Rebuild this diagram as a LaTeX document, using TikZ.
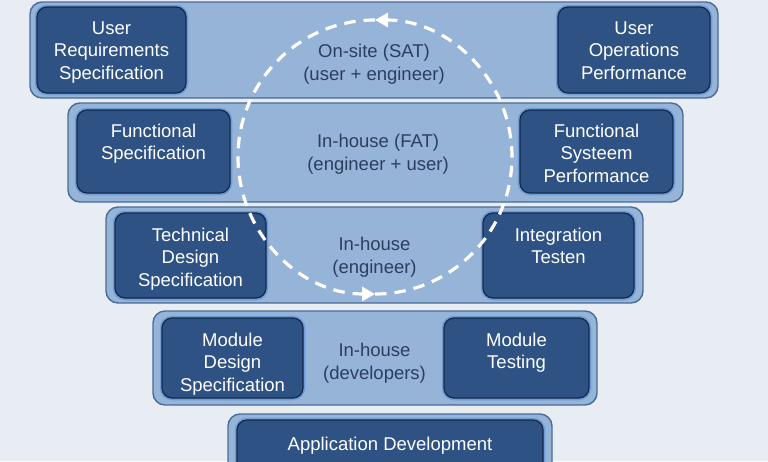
\documentclass[tikz,border=0pt]{standalone}
\usepackage{fontspec}
\setmainfont{Liberation Sans}
\usetikzlibrary{positioning,arrows.meta}
\definecolor{bgblue}{HTML}{E8EDF4}
\definecolor{panelblue}{HTML}{96B3D8}
\definecolor{paneledge}{HTML}{4A6C9A}
\definecolor{boxblue}{HTML}{2E5283}
\definecolor{boxrim}{HTML}{6E9CD6}
\definecolor{boxedge}{HTML}{14294A}
\definecolor{inktext}{HTML}{2B3F5E}
\tikzset{panel/.style={draw=paneledge, line width=1.4pt, fill=panelblue,
   rounded corners=12pt, inner sep=0pt},
 stepbox/.style={draw=boxedge, line width=1.2pt, fill=boxblue,
   rounded corners=10pt, inner sep=0pt, preaction={draw=boxrim, line width=4.5pt}},
 steptext/.style={text=white, align=center, inner sep=0pt,
   font=\fontsize{18.5}{22.5}\selectfont},
 phase/.style={text=inktext, align=center, inner sep=0pt,
   font=\fontsize{18.5}{22.5}\selectfont},
 cycle/.style={draw=white, line width=3.2pt, dash pattern=on 11.5pt off 8pt,
   -{Triangle[length=13pt,width=14pt,fill=white]}},
}

\begin{document}
\begin{tikzpicture}[x=1pt,y=-1pt]
    \clip (0,0) rectangle (768,461);
    \fill[bgblue] (0,0) rectangle (768,461);
    \foreach \cx/\cy/\w/\h/\n in {374/50/688/96/row1, 375.5/152.5/615/99/row2,
            374.5/255/537/96/row3, 375/358/444/94/row4, 390/460/324/92/row5} {
        \node[panel, minimum width=\w, minimum height=\h] (\n) at (\cx,\cy) {};
    }

    \node[stepbox, minimum width=149, minimum height=86] (urs) at (111.5,50) {};
    \node[stepbox, minimum width=152, minimum height=86] (uop) at (634,50) {};
    \node[stepbox, minimum width=153, minimum height=83] (fs) at (153.5,151.5) {};
    \node[stepbox, minimum width=153, minimum height=83] (fsp) at (596.5,151.5) {};
    \node[stepbox, minimum width=151, minimum height=85] (tds) at (190.5,255.5) {};
    \node[stepbox, minimum width=151, minimum height=85] (it) at (558.5,255.5) {};
    \node[stepbox, minimum width=141, minimum height=80] (mds) at (232.5,358) {};
    \node[stepbox, minimum width=145, minimum height=80] (mt) at (516.5,358) {};
    \node[stepbox, minimum width=306, minimum height=80] (ad) at (390,460) {};

    \node[steptext, below=15pt of urs.north] (ursl) {User\\Requirements\\Specification};
    \node[steptext, below=15pt of uop.north] (uopl) {User\\Operations\\Performance};
    \node[steptext, below=14pt of fs.north] (fsl) {Functional\\Specification};
    \node[steptext, below=14pt of fsp.north] (fspl) {Functional\\Systeem\\Performance};
    \node[steptext, below=15pt of tds.north] (tdsl) {Technical\\Design\\Specification};
    \node[steptext, below=15pt of it.north] (itl) {Integration\\Testen};
    \node[steptext, below=15pt of mds.north] (mdsl) {Module\\Design\\Specification};
    \node[steptext, below=15pt of mt.north] (mtl) {Module\\Testing};
    \node[steptext, below=17pt of ad.north] (adl) {Application Development};

    \node[phase] (sat) at (374,64) {On-site (SAT)\\(user + engineer)};
    \node[phase] (fat) at (378,154) {In-house (FAT)\\(engineer + user)};
    \node[phase] (eng) at (374.5,257) {In-house\\(engineer)};
    \node[phase] (dev) at (374.5,363) {In-house\\(developers)};

    \coordinate (bottom) at (375,294);
    \coordinate (top) at (375,20);
    \draw[cycle] (bottom) arc[start angle=90, end angle=-90, radius=137];
    \draw[cycle] (top) arc[start angle=-90, end angle=-270, radius=137];
\end{tikzpicture}
\end{document}
